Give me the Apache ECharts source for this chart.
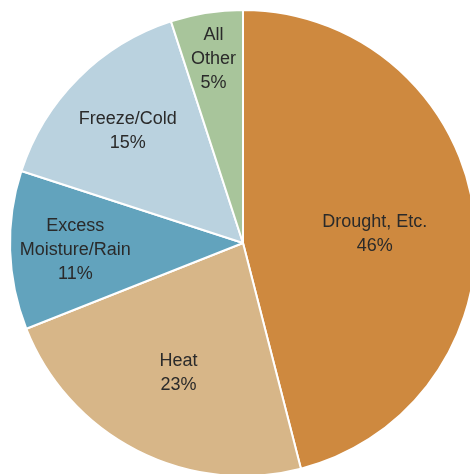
<!DOCTYPE html>
<html>
<head>
<meta charset="utf-8">
<script src="https://cdn.jsdelivr.net/npm/echarts@6/dist/echarts.min.js"></script>
<style>
  html, body { margin: 0; padding: 0; background: #ffffff; }
  #chart { width: 470px; height: 474px; }
</style>
</head>
<body>
<div id="chart"></div>
<script>
// Share of losses by cause, clockwise from 12 o'clock
const causes = ['Drought, Etc.', 'Heat', 'Excess\nMoisture/Rain', 'Freeze/Cold', 'All\nOther'];
const shares = [46, 23, 11, 15, 5];

// Slice fills, in the same order as the causes
const sliceColors = ['#CE893F', '#D7B688', '#62A3BD', '#BAD2DF', '#A8C59B'];

// Label anchor as a fraction of the radius along each slice's mid-angle,
// plus a small vertical nudge in pixels
const labelRadius = [0.57, 0.61, 0.72, 0.70, 0.81];
const labelNudgeY = [8, 3, 2, 3, 2];

const CX = 243, CY = 243, R = 233;

const total = shares.reduce((a, b) => a + b, 0);
function midAngle(i) {
  let before = 0;
  for (let k = 0; k < i; k++) before += shares[k];
  return ((before + shares[i] / 2) / total) * 2 * Math.PI; // clockwise from top
}

const chart = echarts.init(document.getElementById('chart'), null, { renderer: 'canvas' });
chart.setOption({
  backgroundColor: '#ffffff',
  animation: false,
  series: [{
    type: 'pie',
    center: [CX, CY],
    radius: [0, R],
    startAngle: 90,
    clockwise: true,
    avoidLabelOverlap: false,
    silent: true,
    itemStyle: { borderColor: '#ffffff', borderWidth: 2 },
    label: {
      show: true,
      position: 'inside',
      formatter: p => p.name + '\n' + p.value + '%',
      color: '#2a2a2a',
      fontFamily: '"Liberation Sans", Arial, Helvetica, sans-serif',
      fontSize: 18,
      lineHeight: 24,
      align: 'center'
    },
    labelLine: { show: false },
    labelLayout: function (params) {
      const i = params.dataIndex;
      const a = midAngle(i);
      const r = labelRadius[i] * R;
      return {
        x: CX + r * Math.sin(a),
        y: CY - r * Math.cos(a) + labelNudgeY[i],
        align: 'center',
        verticalAlign: 'middle'
      };
    },
    data: causes.map((name, i) => ({
      name: name,
      value: shares[i],
      itemStyle: { color: sliceColors[i] }
    }))
  }]
});
</script>
</body>
</html>
